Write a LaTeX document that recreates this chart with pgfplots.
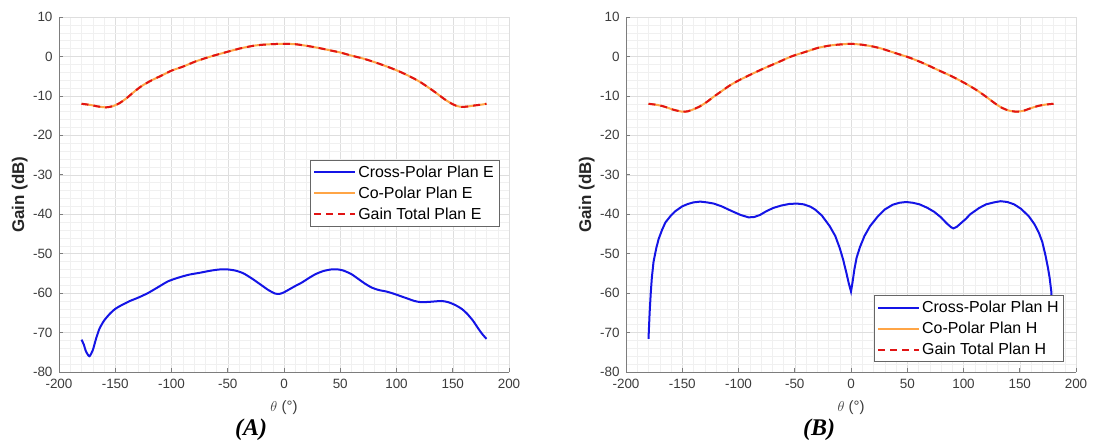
\documentclass[border=0pt]{standalone}
\usepackage{pgfplots}
\pgfplotsset{compat=1.18}
\usepackage{fontspec}
\setmainfont{Liberation Sans}
\newfontfamily\serifit{Liberation Serif}
\definecolor{xblue}{RGB}{20,20,230}
\definecolor{corange}{RGB}{255,165,70}
\definecolor{gred}{RGB}{225,20,20}
\definecolor{axgray}{RGB}{125,125,125}
\definecolor{txtgray}{RGB}{60,60,60}

\pgfplotsset{
  panel/.style={
    scale only axis, width=450bp, height=355bp, anchor=south west,
    xmin=-200,xmax=200,ymin=-80,ymax=10,
    xtick={-200,-150,...,200}, ytick={-80,-70,...,10},
    minor x tick num=4, minor y tick num=4,
    grid=both,
    major grid style={draw=black!13, line width=0.5bp},
    minor grid style={draw=black!6, line width=0.4bp},
    axis lines*=left,
    axis line style={-, draw=axgray, line width=0.7bp},
    tick align=inside, major tick length=4bp, minor tick length=0pt,
    tick style={draw=axgray, line width=0.7bp},
    /pgf/number format/assume math mode=true,
    /pgf/number format/1000 sep={},
    ticklabel style={font=\fontsize{13.5}{16}\selectfont, text=txtgray},
    xticklabel style={yshift=-4bp},
    yticklabel style={xshift=-3bp},
    xlabel={$\theta$ (°)},
    ylabel={\textbf{Gain (dB)}},
    every axis x label/.style={at={(axis description cs:0.5,-0.1)}, anchor=center, font=\fontsize{15}{18}\selectfont, text=txtgray},
    every axis y label/.style={at={(axis description cs:-0.087,0.5)}, anchor=center, rotate=90, font=\fontsize{17}{20}\selectfont, text=black!85},
    legend cell align=left,
    legend image code/.code={\draw[##1] (0bp,0bp) -- (41bp,0bp);},
    legend style={font=\fontsize{16}{19}\selectfont, draw=black!60, line width=0.6bp, fill=white, inner xsep=3bp, inner ysep=3.5bp, row sep=4bp},
    clip=false,
  },
  xp/.style={draw=xblue, line width=2bp},
  cp/.style={draw=corange, line width=2bp},
  gt/.style={draw=gred, line width=2bp, dash pattern=on 7bp off 5bp},
}

\pgfplotstableread{
x y
-180 -71.8
-178 -73
-176 -74.8
-173 -76
-170 -74.5
-167 -71.5
-164 -69
-160 -67
-155 -65.3
-150 -64
-144 -63
-137 -62
-130 -61.2
-121 -60
-112 -58.5
-103 -57
-93 -56
-84 -55.3
-74 -54.8
-65 -54.3
-57 -54
-50 -54
-43 -54.3
-36 -55
-28 -56.4
-20 -58
-14 -59.2
-8 -60.1
-4 -60.2
0 -59.8
5 -59
10 -58.2
16 -57.3
22 -56.2
28 -55.2
35 -54.4
42 -54
48 -54
53 -54.3
60 -55.2
66 -56.4
72 -57.6
78 -58.6
84 -59.2
91 -59.6
97 -60.1
103 -60.7
110 -61.4
116 -62
122 -62.3
130 -62.2
140 -62
146 -62.3
152 -63
158 -64
163 -65.3
168 -67
172 -68.7
176 -70.3
180 -71.6
}\crossE

\pgfplotstableread{
x y
-180 -12
-172 -12.3
-165 -12.7
-158 -12.9
-152 -12.6
-146 -11.8
-140 -10.6
-133 -8.9
-126 -7.4
-118 -6.1
-110 -5
-100 -3.6
-90 -2.6
-78 -1.2
-65 0
-50 1.2
-38 2.1
-25 2.8
-12 3.1
0 3.2
10 3.1
20 2.7
30 2.2
40 1.6
50 1
60 0.2
70 -0.5
80 -1.4
90 -2.4
100 -3.5
110 -4.8
120 -6.3
128 -7.8
135 -9.2
142 -10.7
148 -11.8
153 -12.5
158 -12.8
163 -12.7
170 -12.4
176 -12.2
180 -12
}\coE

\pgfplotstableread{
x y
-180 -71.6
-179 -65
-178 -60
-177 -56
-175.5 -52
-173 -48.5
-171 -46.3
-168 -44
-165 -42.1
-160 -40.3
-156 -39.2
-150 -38
-145 -37.4
-140 -37
-134 -36.8
-128 -37
-122 -37.3
-115 -38
-106 -39.2
-98 -40.2
-91 -40.8
-86 -40.7
-81 -40.2
-75 -39.2
-69 -38.4
-62 -37.8
-55 -37.4
-48 -37.3
-42 -37.5
-36 -38.1
-32 -38.8
-26 -40.3
-19 -43
-14 -45.5
-10 -48.6
-7 -51.5
-4 -55
-2 -57.5
0 -59.6
1.5 -57
3 -54
5 -51
8 -48.3
12 -45.5
17 -43
24 -40.5
30 -38.8
37 -37.6
43 -37.1
49 -36.9
55 -37.1
61 -37.5
68 -38.4
74 -39.4
80 -40.8
85 -42.3
89 -43.3
91 -43.6
94 -43.2
98 -42.2
102 -41.2
106 -40
114 -38.4
120 -37.5
127 -37
133 -36.7
139 -36.9
145 -37.5
151 -38.6
158 -40.5
163 -42.5
167 -44.7
170 -47
173 -50.6
175 -53.5
176.5 -56
178 -59.5
179 -64
180 -71.6
}\crossH

\pgfplotstableread{
x y
-180 -12
-172 -12.3
-165 -12.8
-158 -13.5
-150 -14
-145 -13.9
-140 -13.4
-134 -12.6
-128 -11.5
-122 -10.2
-115 -8.8
-108 -7.4
-100 -6.1
-90 -4.7
-78 -3.1
-65 -1.5
-53 0
-40 1.2
-29 2.2
-18 2.8
-7 3.1
0 3.2
9 3.0
18 2.6
27 2
40 0.8
52 -0.3
65 -1.8
77 -3.4
90 -5.1
102 -6.9
112 -8.6
120 -10.2
128 -11.9
134 -13
140 -13.7
147 -14
153 -13.8
160 -13.1
167 -12.5
173 -12.2
180 -12
}\coH

\begin{document}
\begin{tikzpicture}
\useasboundingbox (0,0) rectangle (1094bp,447bp);
\begin{axis}[panel, at={(59bp,75bp)},
  legend style={at={(0.978,0.598)}, anchor=north east}]
\addplot[xp, smooth, tension=0.4] table {\crossE};
\addlegendentry{Cross-Polar Plan E}
\addplot[cp, smooth, tension=0.4] table {\coE};
\addlegendentry{Co-Polar Plan E}
\addplot[gt, smooth, tension=0.4] table {\coE};
\addlegendentry{Gain Total Plan E}
\node[font=\fontsize{24}{28}\selectfont\serifit\bfseries\itshape] at (rel axis cs:0.427,-0.163) {(A)};
\end{axis}
\begin{axis}[panel, at={(626bp,75bp)},
  legend style={at={(0.973,0.028)}, anchor=south east}]
\addplot[xp] table {\crossH};
\addlegendentry{Cross-Polar Plan H}
\addplot[cp, smooth, tension=0.4] table {\coH};
\addlegendentry{Co-Polar Plan H}
\addplot[gt, smooth, tension=0.4] table {\coH};
\addlegendentry{Gain Total Plan H}
\node[font=\fontsize{24}{28}\selectfont\serifit\bfseries\itshape] at (rel axis cs:0.429,-0.163) {(B)};
\end{axis}
\end{tikzpicture}
\end{document}
